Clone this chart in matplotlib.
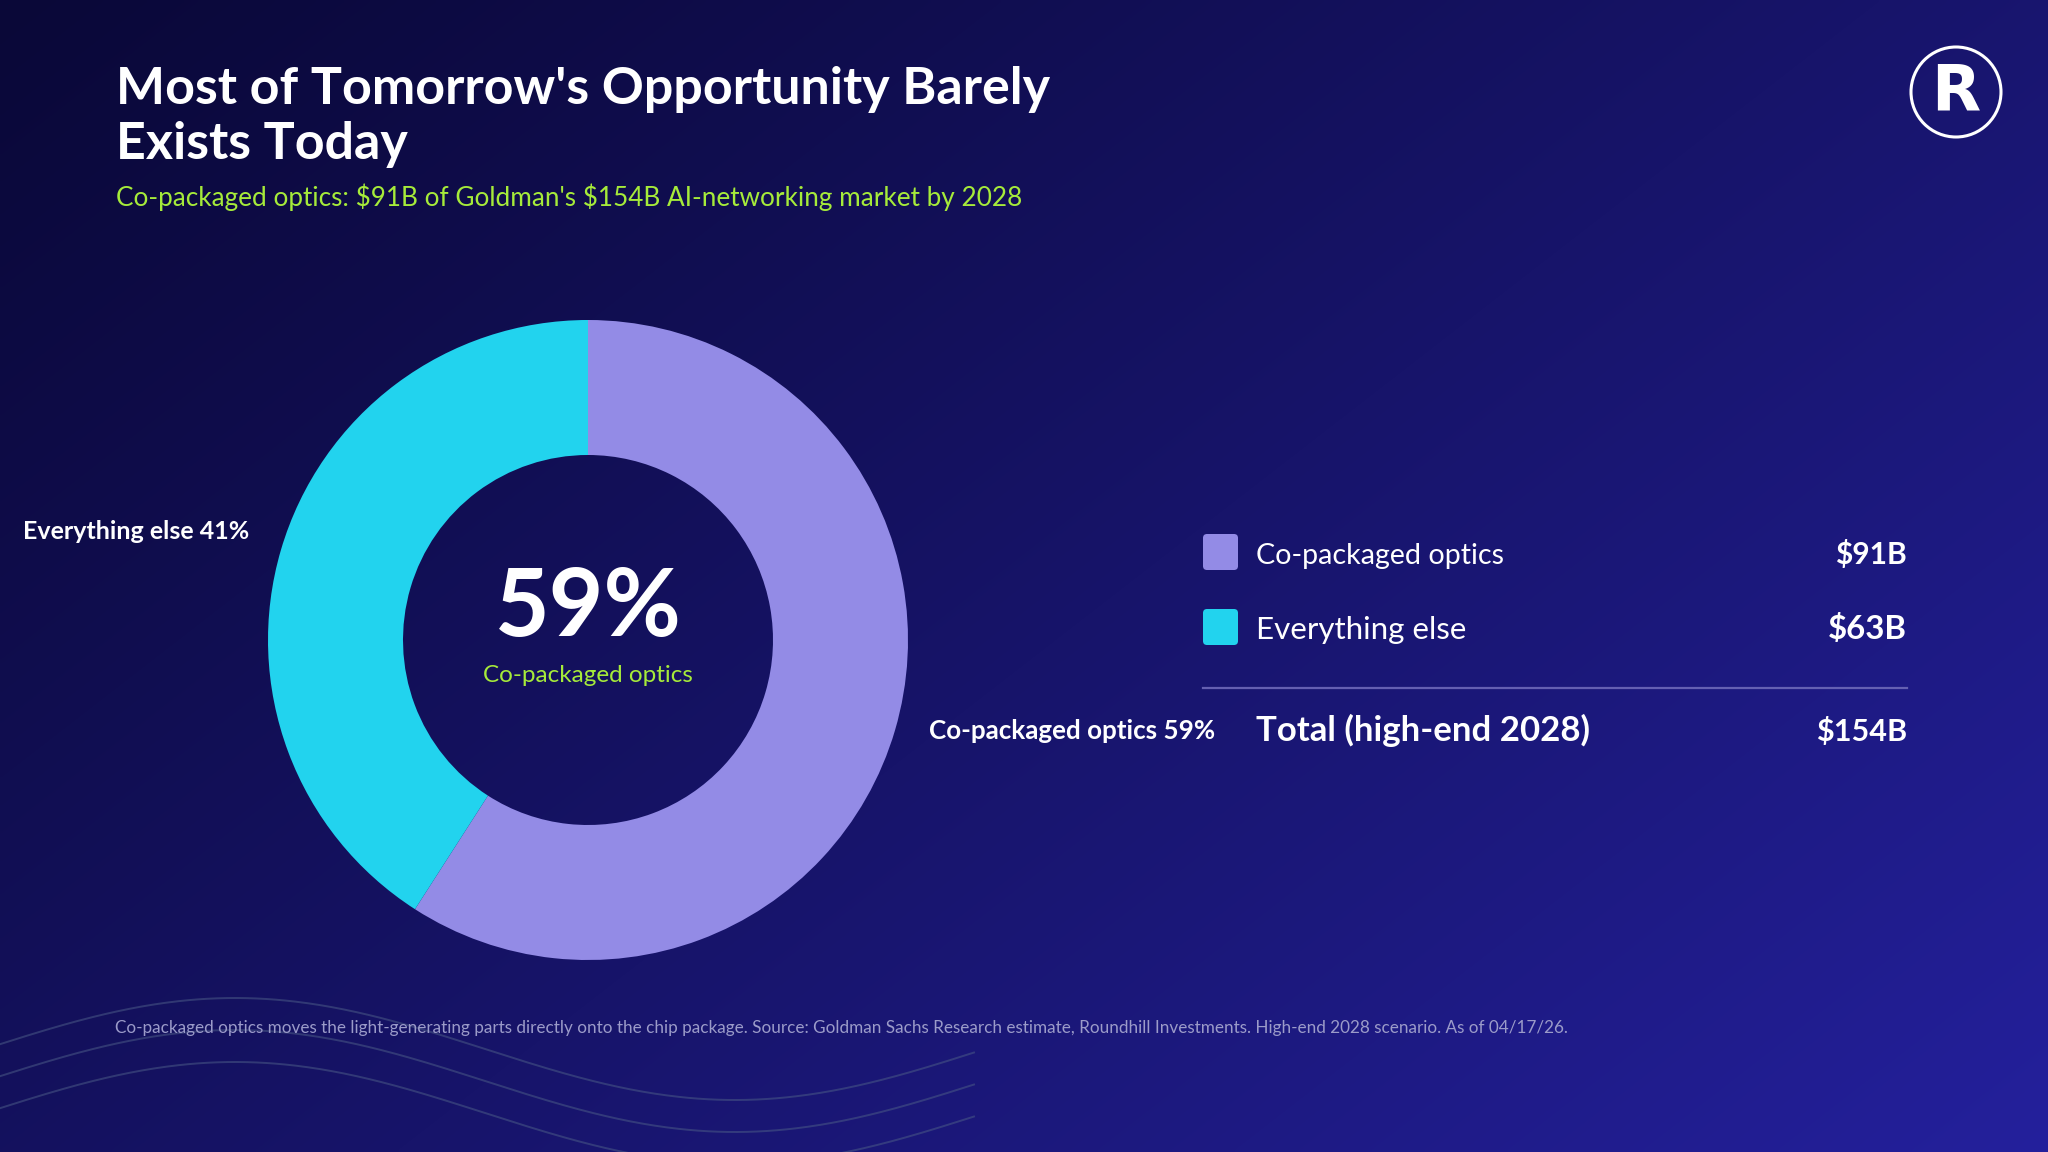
import numpy as np
import matplotlib
matplotlib.use("Agg")
import matplotlib.pyplot as plt
from matplotlib.patches import FancyBboxPatch, Circle
from matplotlib.colors import to_rgb

# ---------------- data ----------------
categories = ["Co-packaged optics", "Everything else"]
values_bn = [91, 63]
total_label = "Total (high-end 2028)"
slice_colors = ["#938BE6", "#22D3EE"]

title_lines = ["Most of Tomorrow's Opportunity Barely", "Exists Today"]
subtitle = "Co-packaged optics: $91B of Goldman's $154B AI-networking market by 2028"
footnote = ("Co-packaged optics moves the light-generating parts directly onto the chip package. "
            "Source: Goldman Sachs Research estimate, Roundhill Investments. High-end 2028 scenario. As of 04/17/26.")

total = sum(values_bn)
pcts = [round(100 * v / total) for v in values_bn]

# ---------------- figure ----------------
W, H = 2048, 1152
plt.rcParams['font.family'] = ['Lato', 'DejaVu Sans']
fig = plt.figure(figsize=(W / 100, H / 100), dpi=100)

GREEN = "#A6EB3A"
WHITE = "#FFFFFF"

# background axes in pixel coordinates (y down)
bg = fig.add_axes([0, 0, 1, 1])
bg.set_xlim(0, W)
bg.set_ylim(H, 0)
bg.axis('off')
c0 = np.array(to_rgb('#0a0838'))
c1 = np.array(to_rgb('#24209c'))
xx, yy = np.meshgrid(np.linspace(0, 1, 512), np.linspace(0, 1, 288))
t = np.clip(0.58 * xx + 0.42 * yy, 0, 1) ** 1.1
img = c0 + (c1 - c0) * t[..., None]
bg.imshow(img, extent=[0, W, H, 0], aspect='auto', interpolation='bilinear', zorder=0)

# decorative waves (bottom-left)
xw = np.linspace(0, 974, 400)
for k in range(3):
    yw = 1049 + 32 * k - 51 * np.cos(2 * np.pi * (xw - 235) / 1000)
    bg.plot(xw, yw, color='#4a5a86', lw=1.4, alpha=0.55, zorder=1)

# ---------------- donut ----------------
cx, cy, R, Rin = 588, 640, 320, 185
pad = 1.04
ax = fig.add_axes([(cx - R * pad) / W, 1 - (cy + R * pad) / H, 2 * R * pad / W, 2 * R * pad / H])
ax.pie(values_bn, colors=slice_colors, startangle=90, counterclock=False, radius=1,
       wedgeprops=dict(width=1 - Rin / R, linewidth=0))
ax.set_xlim(-pad, pad)
ax.set_ylim(-pad, pad)
ax.axis('off')

fig.canvas.draw()
renderer = fig.canvas.get_renderer()


def fit_text(x, y, s, width, size, **kw):
    tx = bg.text(x, y, s, fontsize=size, parse_math=False, **kw)
    w = tx.get_window_extent(renderer).width
    tx.set_fontsize(size * width / w)
    return tx


# ---------------- titles ----------------
t1 = fit_text(116, 104, title_lines[0], 936, 42, color=WHITE, fontweight='bold', va='baseline', ha='left')
bg.text(116, 159, title_lines[1], fontsize=t1.get_fontsize(), color=WHITE, parse_math=False,
        fontweight='bold', va='baseline', ha='left')
fit_text(116, 206, subtitle, 901, 18, color=GREEN, va='baseline', ha='left')

# center labels
fit_text(cx, 636, f"{pcts[0]}%", 187, 60, color=WHITE, fontweight='bold', va='baseline', ha='center')
fit_text(cx, 682, categories[0], 210, 17, color=GREEN, va='baseline', ha='center')

# outside slice labels
fit_text(23, 539, f"{categories[1]} {pcts[1]}%", 226, 18, color=WHITE, fontweight='bold',
         va='baseline', ha='left')
fit_text(1215, 739, f"{categories[0]} {pcts[0]}%", 287, 18, color=WHITE, fontweight='bold',
         va='baseline', ha='right')

# ---------------- legend table ----------------
rows_y = [552, 627]
label_w = [247, 210]
val_w = [72, 79]
for i, (cat, v) in enumerate(zip(categories, values_bn)):
    y = rows_y[i]
    bg.add_patch(FancyBboxPatch((1203 + 4, y - 18 + 4), 35 - 8, 36 - 8,
                                boxstyle="round,pad=4", fc=slice_colors[i], ec='none', zorder=3))
    fit_text(1256, y + 12, cat, label_w[i], 22, color=WHITE, va='baseline', ha='left')
    fit_text(1907, y + 12, f"${v}B", val_w[i], 22, color=WHITE, fontweight='bold',
             va='baseline', ha='right')

bg.plot([1203, 1907], [688, 688], color='#6d68b8', lw=1.6, alpha=0.9, zorder=2)
fit_text(1256, 741, total_label, 334, 24, color=WHITE, fontweight='bold', va='baseline', ha='left')
fit_text(1907, 741, f"${total}B", 91, 24, color=WHITE, fontweight='bold', va='baseline', ha='right')

# ---------------- footnote ----------------
fit_text(115, 1033, footnote, 1446, 12, color='#9b9bc9', va='baseline', ha='left')

# ---------------- logo ----------------
bg.add_patch(Circle((1956, 92), 45, fc='none', ec=WHITE, lw=2.2, zorder=3))
bg.text(1956, 93, "R", fontsize=46, color=WHITE, fontweight='bold', ha='center', va='center',
        family=['DejaVu Sans'])

fig.savefig("out.png", dpi=100, facecolor=fig.get_facecolor())
